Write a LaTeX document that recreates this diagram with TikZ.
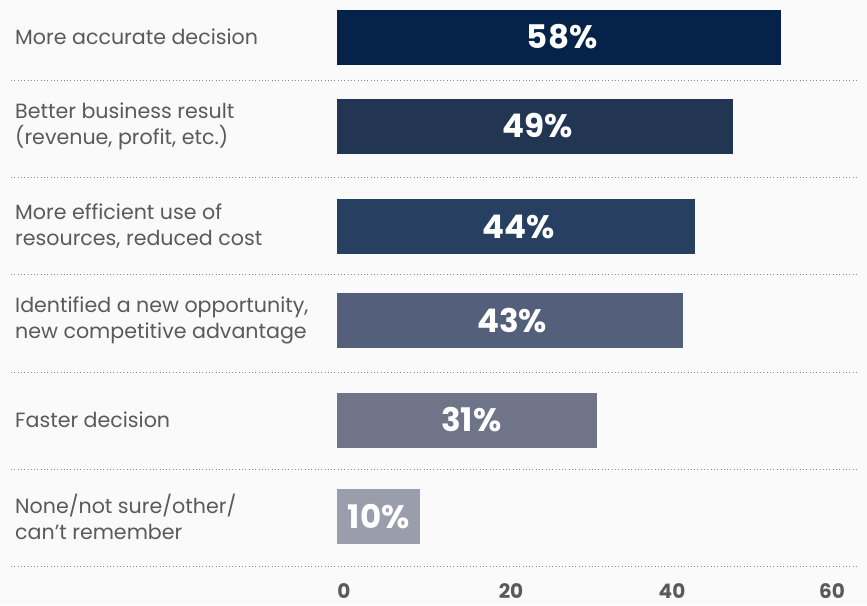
\documentclass[tikz,border=0pt]{standalone}
\usepackage{fontspec}
\setmainfont{Poppins}
\definecolor{pageback}{HTML}{FAFAFA}
\definecolor{labelgray}{HTML}{5A5A5A}
\definecolor{rulegray}{HTML}{8A8A8A}
\definecolor{barA}{HTML}{052248}
\definecolor{barB}{HTML}{223653}
\definecolor{barC}{HTML}{273F60}
\definecolor{barD}{HTML}{535F7B}
\definecolor{barE}{HTML}{6F7489}
\definecolor{barF}{HTML}{9A9DAB}
\tikzset{bar/.style={anchor=west,minimum height=55pt,inner sep=0pt,
           text=white,font=\fontsize{32.5}{36}\selectfont\bfseries},
         answer/.style={anchor=west,align=left,inner sep=0pt,text=labelgray,
           font=\fontsize{20.6}{26}\selectfont},
         tick/.style={anchor=base,inner sep=0pt,text depth=0pt,text=labelgray,
           font=\fontsize{20}{24}\selectfont\bfseries},
         rule/.style={draw=rulegray,line width=0.9pt,dash pattern=on 0.9pt off 2.4pt}}

\begin{document}
\begin{tikzpicture}[x=1pt,y=-1pt]
      \fill[pageback] (0,0) rectangle (867,605);
      \useasboundingbox (0,0) rectangle (867,605);

      \node[bar,fill=barA,minimum width=444pt] (b58) at (337,37) {\hspace*{6pt}58\%};
      \node[bar,fill=barB,minimum width=396pt] (b49) at (337,126) {\hspace*{4pt}49\%};
      \node[bar,fill=barC,minimum width=358pt] (b44) at (337,226.5) {\hspace*{4pt}44\%};
      \node[bar,fill=barD,minimum width=346pt] (b43) at (337,320.5) {\hspace*{4pt}43\%};
      \node[bar,fill=barE,minimum width=260pt] (b31) at (337,420) {\hspace*{8pt}31\%};
      \node[bar,fill=barF,minimum width=83pt] (b10) at (337,516.5) {10\%};

      \node[answer] (accurate) at (15,37) {More accurate decision};
      \node[answer] (business) at (15,126) {Better business result\\(revenue, profit, etc.)};
      \node[answer] (efficient) at (15,226.5) {More efficient use of\\resources, reduced cost};
      \node[answer] (opportunity) at (15,320.5) {Identified a new opportunity,\\new competitive advantage};
      \node[answer] (faster) at (15,420) {Faster decision};
      \node[answer] (none) at (15,516.5) {None/not sure/other/\\can’t remember};

      \draw[rule] (11,80) -- (856,80);
      \draw[rule] (11,177) -- (856,177);
      \draw[rule] (11,274) -- (856,274);
      \draw[rule] (11,372) -- (856,372);
      \draw[rule] (11,469) -- (856,469);
      \draw[rule] (11,566) -- (856,566);

      \node[tick] (t0) at (344,598) {0};
      \node[tick] (t20) at (511,598) {20};
      \node[tick] (t40) at (672,598) {40};
      \node[tick] (t60) at (832,598) {60};
    \end{tikzpicture}
\end{document}
